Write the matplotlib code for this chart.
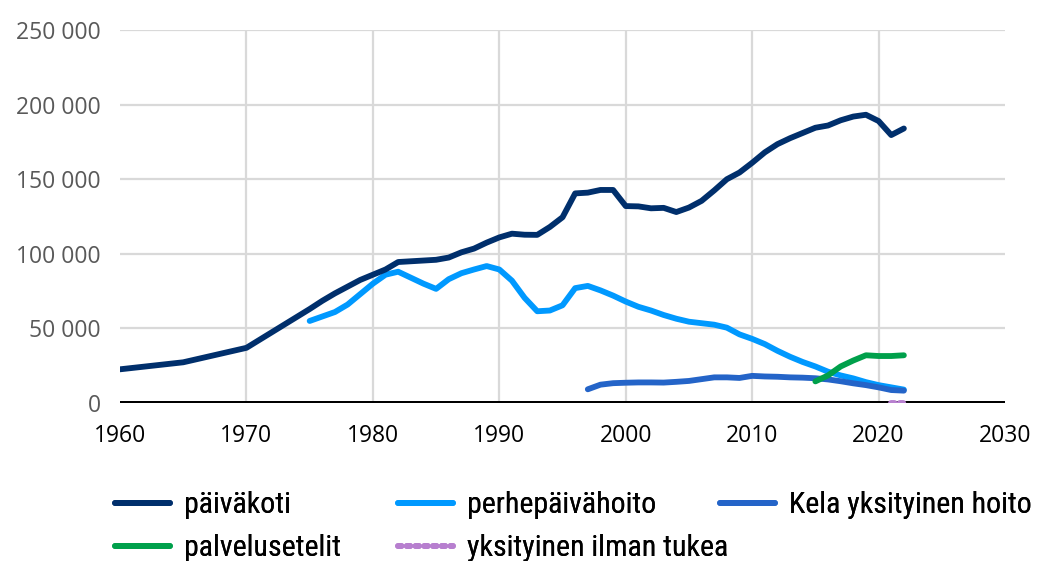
import matplotlib
matplotlib.use("Agg")
import matplotlib.pyplot as plt
from matplotlib.ticker import FuncFormatter

# -- data ----------------------------------------------------------------
paivakoti_years = [1960, 1965, 1970] + list(range(1975, 2023))
paivakoti = [22600, 27300, 37000,
             63000, 68500, 73500, 78000, 82500, 86000, 89500, 94500, 95000,
             95500, 96000, 97500, 101000, 103500, 107500, 111000, 113500,
             112800, 112700, 118000, 124500, 140500, 141000, 142800, 142800,
             132000, 131800, 130500, 130800, 128000, 131000, 135500, 142500,
             150000, 154500, 161000, 168000, 173500, 177500, 181000, 184500,
             186000, 189500, 192000, 193200, 189000, 179600, 184000]

perhe_years = list(range(1975, 2023))
perhe = [55000, 58000, 61000, 66000, 73000, 80000, 86000, 88000, 84000,
         80000, 76500, 83000, 87000, 89500, 91800, 89500, 82000, 70500,
         61500, 62000, 65500, 77000, 78500, 75500, 72000, 68000, 64500,
         62000, 59000, 56500, 54500, 53500, 52500, 50500, 46000, 43000,
         39500, 35000, 31000, 27500, 24500, 21000, 18500, 16500, 14000,
         12000, 10500, 9000]

kela_years = list(range(1997, 2023))
kela = [9200, 12300, 13300, 13600, 13800, 13800, 13700, 14200, 14800,
        16000, 17200, 17200, 16800, 18200, 17800, 17600, 17200, 17000,
        16600, 15800, 14600, 13200, 12000, 10500, 8700, 8300]

seteli_years = list(range(2015, 2023))
seteli = [14500, 18500, 24500, 28500, 32000, 31500, 31500, 32000]

ilman_years = [2021, 2022]
ilman = [300, 300]

labels = ["päiväkoti", "perhepäivähoito", "Kela yksityinen hoito",
          "palvelusetelit", "yksityinen ilman tukea"]
colors = ["#002f6c", "#0099ff", "#2464c8", "#00a04b", "#b77fcf"]

# -- plot ----------------------------------------------------------------
plt.rcParams["font.family"] = ["Open Sans", "DejaVu Sans"]

fig = plt.figure(figsize=(10.42, 5.61), dpi=100)
ax = fig.add_axes([0.1152, 0.2816, 0.8493, 0.6649])

lw = 4.2
l1, = ax.plot(paivakoti_years, paivakoti, color=colors[0], lw=lw,
              solid_capstyle="round", zorder=5)
l2, = ax.plot(perhe_years, perhe, color=colors[1], lw=lw,
              solid_capstyle="round", zorder=4)
l3, = ax.plot(kela_years, kela, color=colors[2], lw=lw,
              solid_capstyle="round", zorder=4)
l4, = ax.plot(seteli_years, seteli, color=colors[3], lw=lw,
              solid_capstyle="round", zorder=5)
l5, = ax.plot(ilman_years, ilman, color=colors[4], lw=lw,
              ls=(0, (0.6, 0.9)), dash_capstyle="round", zorder=6)

ax.axhline(0, color="black", lw=3.6, zorder=3)

ax.set_xlim(1960, 2030)
ax.set_ylim(0, 250000)
ax.set_xticks(range(1960, 2031, 10))
ax.set_yticks(range(0, 250001, 50000))
ax.yaxis.set_major_formatter(
    FuncFormatter(lambda v, p: f"{int(v):,}".replace(",", " ")))

ax.grid(True, color="#d9d9d9", lw=1.6, zorder=0)
ax.set_axisbelow(True)
xg = ax.get_xgridlines()
xg[0].set_visible(False)
xg[-1].set_visible(False)

for s in ax.spines.values():
    s.set_visible(False)
ax.tick_params(axis="both", length=0, labelsize=16.5)
ax.tick_params(axis="y", colors="#595959", pad=14)
ax.tick_params(axis="x", colors="black", pad=15)

# legend: three fixed columns like the original
leg_font = {"family": ["Roboto Condensed", "Open Sans Condensed",
                       "Noto Sans Condensed", "Liberation Sans Narrow",
                       "Roboto", "DejaVu Sans"],
            "size": 21.5}
cols = [([l1, l4], [labels[0], labels[3]], 0.110),
        ([l2, l5], [labels[1], labels[4]], 0.382),
        ([l3], [labels[2]], 0.691)]
for handles, labs, x0 in cols:
    lg = fig.legend(handles, labs, loc="upper left",
                    bbox_to_anchor=(x0, 0.124), frameon=False,
                    prop=leg_font, handlelength=1.85, handletextpad=0.47,
                    labelspacing=0.5, borderaxespad=0, borderpad=0)
    fig.add_artist(lg)

fig.savefig("out.png", dpi=100)
